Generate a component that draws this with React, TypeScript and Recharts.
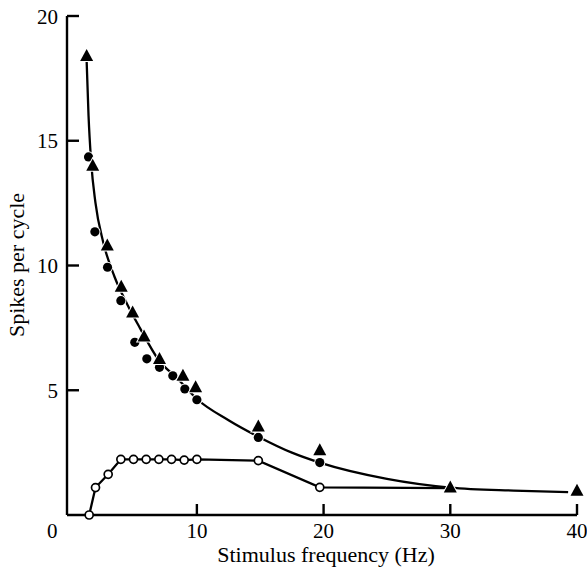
import React from 'react';
import { ComposedChart, Line, Scatter, XAxis, YAxis, Label } from 'recharts';

// Open circles (joined by straight segments); last point is the line's end at 30 Hz (no marker)
const openFreq = [1.5, 2, 3, 4, 5, 6, 7, 8, 9, 10, 14.85, 19.7, 30];
const openSpikes = [0, 1.1, 1.63, 2.23, 2.23, 2.23, 2.23, 2.23, 2.2, 2.23, 2.18, 1.11, 1.08];

// Filled circles
const circleFreq = [1.45, 1.95, 2.95, 4.0, 5.1, 6.05, 7.05, 8.1, 9.05, 10.0, 14.85, 19.7];
const circleSpikes = [14.35, 11.35, 9.93, 8.59, 6.92, 6.26, 5.92, 5.58, 5.05, 4.62, 3.11, 2.1];

// Filled triangles
const triFreq = [1.3, 1.78, 2.93, 4.03, 4.93, 5.83, 7.05, 8.9, 9.9, 14.85, 19.7, 30, 40];
const triSpikes = [18.4, 14.0, 10.8, 9.15, 8.12, 7.15, 6.25, 5.58, 5.12, 3.55, 2.6, 1.1, 0.97];

// Smooth fitted curve
const curveFreq = [1.3, 1.45, 1.65, 2.0, 2.6, 3.5, 4.5, 5.5, 7, 8.5, 10, 12.5, 15, 17.5, 19.7, 25, 30, 35, 39.3];
const curveSpikes = [18.2, 16.0, 14.2, 12.5, 10.95, 9.55, 8.45, 7.5, 6.2, 5.45, 4.65, 3.8, 3.1, 2.5, 2.1, 1.45, 1.1, 0.98, 0.92];

const xTicks = [0, 10, 20, 30, 40];
const yTicks = [5, 10, 15, 20];

const xTitle = 'Stimulus frequency (Hz)';
const yTitle = 'Spikes per cycle';

const toPts = (xs: number[], ys: number[]) => xs.map((x, i) => ({ x, y: ys[i] }));

const openData = toPts(openFreq, openSpikes);
const circleData = toPts(circleFreq, circleSpikes);
const triData = toPts(triFreq, triSpikes);
const curveData = toPts(curveFreq, curveSpikes);

const FONT = '"Liberation Serif", "Times New Roman", serif';

const XTick = (props: any) => {
  const { x, y, payload } = props;
  const v = payload.value;
  return (
    <g>
      {v !== 0 && <line x1={x} x2={x} y1={y} y2={y - 11} stroke="#000" strokeWidth={2.4} />}
      <text x={v === 0 ? x - 18 : x} y={y + 23} textAnchor="middle" fontFamily={FONT} fontSize={21} fill="#000">
        {v}
      </text>
    </g>
  );
};

const YTick = (props: any) => {
  const { x, y, payload } = props;
  return (
    <g>
      <line x1={x} x2={x + 12} y1={y} y2={y} stroke="#000" strokeWidth={2.4} />
      <text x={x - 9} y={y + 7.5} textAnchor="end" fontFamily={FONT} fontSize={21} fill="#000">
        {payload.value}
      </text>
    </g>
  );
};

const Triangle = (props: any) => {
  const { cx, cy } = props;
  if (cx == null || cy == null) return <g />;
  const w = 6.5;
  const pts = `${cx},${cy - 7} ${cx - w},${cy + 5} ${cx + w},${cy + 5}`;
  return <polygon points={pts} fill="#000" stroke="#fff" strokeWidth={2} paintOrder="stroke" />;
};

const Disc = (props: any) => {
  const { cx, cy } = props;
  if (cx == null || cy == null) return <g />;
  return <circle cx={cx} cy={cy} r={4.6} fill="#000" stroke="#fff" strokeWidth={2} paintOrder="stroke" />;
};

const OpenDot = (props: any) => {
  const { cx, cy, index } = props;
  if (index >= openFreq.length - 1 || cx == null) return <g key={`od-${index}`} />;
  return <circle key={`od-${index}`} cx={cx} cy={cy} r={4} fill="#fff" stroke="#000" strokeWidth={1.7} />;
};

export default function App() {
  return (
    <div style={{ position: 'absolute', left: 0, top: 0, width: 587, height: 571, background: '#fff' }}>
      <ComposedChart width={587} height={571} margin={{ top: 16, right: 10, bottom: 0, left: 0 }}>
        <XAxis
          type="number"
          dataKey="x"
          domain={[-0.25, 40]}
          ticks={xTicks}
          interval={0}
          height={56}
          tickSize={0}
          tickMargin={0}
          tickLine={false}
          axisLine={{ stroke: '#000', strokeWidth: 2.4 }}
          tick={<XTick />}
        >
          <Label
            content={() => (
              <text x={326} y={562} textAnchor="middle" fontFamily={FONT} fontSize={22} fill="#000">
                {xTitle}
              </text>
            )}
          />
        </XAxis>
        <YAxis
          type="number"
          dataKey="y"
          domain={[0, 20]}
          ticks={yTicks}
          interval={0}
          width={67}
          tickSize={0}
          tickMargin={0}
          tickLine={false}
          axisLine={{ stroke: '#000', strokeWidth: 2.4 }}
          tick={<YTick />}
        >
          <Label
            content={() => (
              <text
                x={24}
                y={265}
                transform="rotate(-90 24 265)"
                textAnchor="middle"
                fontFamily={FONT}
                fontSize={22}
                fill="#000"
              >
                {yTitle}
              </text>
            )}
          />
        </YAxis>
        <Line
          data={curveData}
          dataKey="y"
          type="monotone"
          stroke="#000"
          strokeWidth={2.3}
          dot={false}
          activeDot={false}
          isAnimationActive={false}
        />
        <Line
          data={openData}
          dataKey="y"
          type="linear"
          stroke="#000"
          strokeWidth={2.3}
          dot={<OpenDot />}
          activeDot={false}
          isAnimationActive={false}
        />
        <Scatter data={circleData} dataKey="y" shape={<Disc />} isAnimationActive={false} />
        <Scatter data={triData} dataKey="y" shape={<Triangle />} isAnimationActive={false} />
      </ComposedChart>
    </div>
  );
}
